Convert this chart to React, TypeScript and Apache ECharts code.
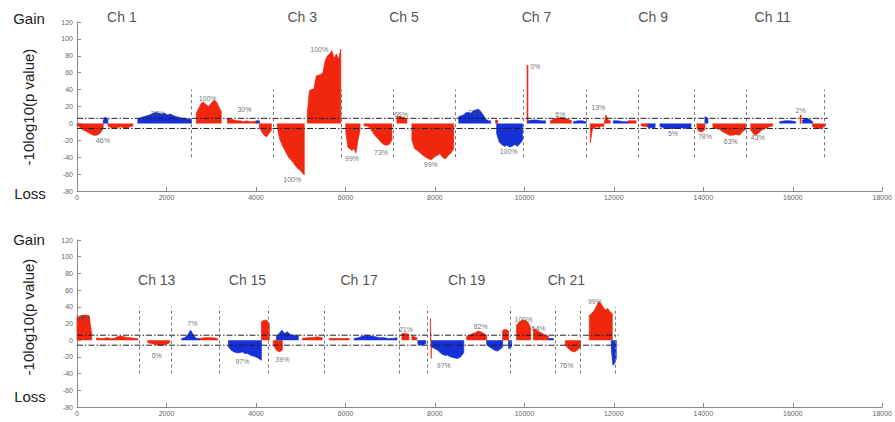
import React, { useEffect, useRef } from "react";
import * as echarts from "echarts";

// [start bin, end bin, -10log10(p) profile sampled evenly across the segment]
type Seg = [number, number, number[]];
type Label = [number, number, string];

const topRed: Seg[] = [
  [0, 586, [-2, -5, -8, -10, -12, -14, -14, -12, -6]],
  [690, 1250, [-3, -5, -6, -5, -4, -5, -6, -4, -3]],
  [2667, 3224, [12, 18, 24, 25, 22, 20, 24, 27, 26, 20, 14]],
  [3364, 4010, [6, 5, 4, 3, 3, 2, 3, 2, 2, 3]],
  [4077, 4345, [-5, -10, -14, -16, -12, -8]],
  [4478, 5080, [-5, -18, -25, -30, -35, -40, -43, -46, -50, -53, -55, -58, -61]],
  [5147, 5897, [12, 39, 40, 41, 56, 57, 58, 60, 74, 80, 82, 86, 77, 82, 76, 88]],
  [6008, 6327, [-10, -28, -30, -32, -30, -35, -20, -8]],
  [6417, 7040, [-3, -3, -5, -10, -15, -18, -22, -25, -26, -25, -20]],
  [7152, 7374, [8, 8, 7, 6]],
  [7486, 8421, [-20, -30, -32, -35, -38, -40, -42, -43, -40, -38, -36, -40, -42, -38, -35, -30]],
  [9357, 9402, [4]],
  [10060, 10080, [69]],
  [10583, 11051, [3, 5, 6, 7, 7, 6, 5, 3]],
  [11474, 11920, [-23, -6, -5, -4, -5, -3, -4, 10, 4, 3]],
  [12320, 12498, [3, 3]],
  [12610, 12766, [-3, -4]],
  [13858, 14036, [-6, -10, -10, -7]],
  [14214, 14950, [-5, -6, -7, -10, -12, -14, -14, -13, -14, -10, -7]],
  [15061, 15551, [-8, -14, -12, -8, -6, -4, -3]],
  [16165, 16185, [10]],
  [16443, 16730, [-4, -6, -6, -3]],
];

const topBlue: Seg[] = [
  [586, 690, [3, 7, 7, 5]],
  [1360, 2560, [5, 7, 8, 9, 10, 12, 13, 12, 11, 12, 10, 11, 9, 8, 7, 6, 6, 5, 5]],
  [4010, 4077, [3]],
  [8533, 9246, [8, 9, 10, 13, 13, 12, 15, 16, 17, 14, 10, 5, 3, 3]],
  [9380, 9959, [-12, -22, -25, -27, -26, -28, -27, -25, -27, -24, -20]],
  [10080, 10471, [3, 4, 4, 3, 3]],
  [11095, 11383, [2, 3, 3, 2]],
  [11986, 12320, [3, 3, 2, 2]],
  [12766, 12922, [-5, -5]],
  [13033, 13724, [-4, -5, -6, -6, -6, -5, -6, -5]],
  [14036, 14103, [8, 6]],
  [15707, 16063, [2, 3, 3, 2]],
  [16220, 16443, [4, 6, 5, 2]],
];

const botRed: Seg[] = [
  [0, 328, [27, 28, 30, 30, 30, 29, 8]],
  [439, 1359, [3, 2, 2, 3, 2, 2, 4, 5, 4, 3, 3, 2, 2]],
  [1582, 2072, [-3, -4, -5, -6, -6, -5, -3]],
  [2740, 3141, [2, 3, 3, 3, 2]],
  [4122, 4300, [22, 24, 24, 20]],
  [4389, 4590, [-6, -12, -14, -12]],
  [5035, 5481, [2, 3, 3, 4, 3]],
  [5637, 6083, [2, 2, 2]],
  [7263, 7419, [8, 8, 7]],
  [7486, 7597, [5, 3]],
  [7900, 7920, [26, -22]],
  [8711, 9157, [5, 6, 8, 9, 11, 10, 8, 6]],
  [9514, 9647, [12, 13, 11]],
  [9826, 10137, [18, 22, 24, 24, 22, 15]],
  [10204, 10538, [14, 12, 10, 8, 6, 5]],
  [10917, 11252, [-6, -10, -13, -14, -12, -8]],
  [11452, 11965, [30, 32, 35, 40, 46, 44, 40, 36, 38, 34, 32]],
];

const botBlue: Seg[] = [
  [2339, 2740, [2, 3, 6, 12, 6, 2, 2]],
  [3387, 4122, [-8, -12, -14, -15, -15, -14, -16, -16, -18, -19, -20, -22, -24]],
  [4456, 4946, [4, 8, 12, 8, 10, 7, 6, 6, 5]],
  [6194, 7152, [2, 3, 5, 6, 5, 4, 3, 3, 2, 2, 3]],
  [7620, 7798, [-5, -6, -4]],
  [7920, 8645, [-8, -10, -12, -16, -18, -18, -20, -21, -22, -20, -15]],
  [9157, 9514, [-5, -8, -10, -12, -13, -11, -8]],
  [9647, 9714, [-10, -8]],
  [10538, 10650, [2, 2]],
  [11942, 12054, [-10, -30, -28, -22]],
];

const topPct: Label[] = [
  [580, -20, "46%"], [1805, 12, "32%"], [2919, 30, "100%"], [3743, 17, "30%"],
  [4812, -66, "100%"], [5414, 87, "100%"], [6149, -42, "99%"], [6795, -34, "73%"],
  [7241, 10, "66%"], [7909, -49, "99%"], [8889, 13, "73%"], [9647, -33, "100%"],
  [10249, 67, "0%"], [10806, 10, "6%"], [11652, 19, "13%"], [13323, -12, "5%"],
  [14036, -16, "78%"], [14615, -22, "63%"], [15217, -17, "43%"], [16175, 15, "2%"],
];

const botPct: Label[] = [
  [134, 27, "99%"], [1782, -18, "6%"], [2584, 20, "7%"], [3698, -26, "97%"],
  [4590, -23, "39%"], [7352, 13, "21%"], [8199, -30, "97%"], [9023, 16, "82%"],
  [9981, 25, "100%"], [10316, 14, "54%"], [10940, -30, "76%"], [11578, 46, "99%"],
];

const topBounds = [2562, 4389, 5903, 7062, 8465, 9980, 11383, 12542, 13789, 14970, 16707];
const botBounds = [1381, 2116, 3186, 4277, 5525, 7196, 7820, 9692, 10695, 11252, 12032];

const topChr: [string, number][] = [
  ["Ch 1", 1003], ["Ch 3", 5035], ["Ch 5", 7308], ["Ch 7", 10271], ["Ch 9", 12878], ["Ch 11", 15551],
];
const botChr: [string, number][] = [
  ["Ch 13", 1782], ["Ch 15", 3810], ["Ch 17", 6305], ["Ch 19", 8711], ["Ch 21", 10939],
];

const threshold = 6;
const boundSpan = 40;
const topEnd = 16780;
const botEnd = 12100;
const chrLabelY = [126, 72];

const RED = "#f0260f";
const BLUE = "#1530d6";
const FONT = "'Liberation Sans', Arial, Helvetica, sans-serif";

function areaSeries(segs: Seg[], color: string, gi: number) {
  return segs.map(([from, to, vals]) => {
    const pts: number[][] = [[from, 0]];
    if (vals.length === 1) {
      pts.push([from, vals[0]], [to, vals[0]]);
    } else {
      vals.forEach((v, i) => pts.push([from + ((to - from) * i) / (vals.length - 1), v]));
    }
    pts.push([to, 0]);
    return {
      type: "line",
      xAxisIndex: gi,
      yAxisIndex: gi,
      data: pts,
      symbol: "none",
      silent: true,
      z: 2,
      lineStyle: { color, width: 0.7 },
      areaStyle: { color, opacity: 1 },
    };
  });
}

function guideSeries(gi: number, end: number, bounds: number[]) {
  const dashDot = { color: "#1e1e28", width: 1, type: [6, 2, 1.5, 2] };
  return [
    {
      type: "line",
      xAxisIndex: gi,
      yAxisIndex: gi,
      data: [[0, threshold], [end, threshold]],
      symbol: "none",
      silent: true,
      z: 4,
      lineStyle: dashDot,
    },
    {
      type: "line",
      xAxisIndex: gi,
      yAxisIndex: gi,
      data: [[0, -threshold], [end, -threshold]],
      symbol: "none",
      silent: true,
      z: 4,
      lineStyle: dashDot,
      markLine: {
        silent: true,
        symbol: "none",
        label: { show: false },
        lineStyle: { color: "#6f7a72", width: 1, type: [3, 3] },
        data: bounds.map((g) => [{ coord: [g, -boundSpan] }, { coord: [g, boundSpan] }]),
      },
    },
  ];
}

function pctSeries(labels: Label[], gi: number) {
  return {
    type: "scatter",
    xAxisIndex: gi,
    yAxisIndex: gi,
    symbolSize: 0,
    silent: true,
    z: 6,
    data: labels.map(([g, v, t]) => ({
      value: [g, v],
      label: {
        show: true,
        position: "inside",
        formatter: t,
        fontSize: 7,
        color: "#4a4a4a",
        fontFamily: FONT,
      },
    })),
  };
}

function chrSeries(names: [string, number][], gi: number) {
  return {
    type: "scatter",
    xAxisIndex: gi,
    yAxisIndex: gi,
    symbolSize: 0,
    silent: true,
    clip: false,
    z: 6,
    data: names.map(([n, g]) => ({
      value: [g, chrLabelY[gi]],
      label: {
        show: true,
        position: "inside",
        formatter: n,
        fontSize: 14,
        color: "#222",
        fontFamily: FONT,
      },
    })),
  };
}

function xAxis(gi: number) {
  return {
    type: "value",
    gridIndex: gi,
    min: 0,
    max: 18000,
    interval: 2000,
    axisLine: { onZero: false, lineStyle: { color: "#8c8c8c", width: 1 } },
    axisTick: { inside: true, length: 4, lineStyle: { color: "#8c8c8c" } },
    axisLabel: {
      fontSize: 7,
      color: "#666",
      margin: 3,
      fontFamily: FONT,
      formatter: (v: number) => String(v),
    },
    splitLine: { show: false },
  };
}

function yAxis(gi: number) {
  return {
    type: "value",
    gridIndex: gi,
    min: -80,
    max: 120,
    interval: 20,
    axisLine: { show: true, onZero: false, lineStyle: { color: "#8c8c8c", width: 1 } },
    axisTick: { show: true, inside: true, length: 4, lineStyle: { color: "#8c8c8c" } },
    axisLabel: { fontSize: 7, color: "#666", margin: 4, fontFamily: FONT },
    splitLine: { show: false },
  };
}

function sideText(text: string, x: number, y: number, size: number, rotate = false) {
  return {
    type: "text",
    x,
    y,
    rotation: rotate ? Math.PI / 2 : 0,
    silent: true,
    style: {
      text,
      font: `${size}px ${FONT}`,
      fill: "#222",
      textAlign: "center",
      textVerticalAlign: "middle",
    },
  };
}

export default function App() {
  const ref = useRef<HTMLDivElement>(null);

  useEffect(() => {
    if (!ref.current) return;
    const chart = echarts.init(ref.current, undefined, { renderer: "svg" });
    chart.setOption({
      animation: false,
      backgroundColor: "#fff",
      grid: [
        { left: 77, top: 22, width: 808, height: 169 },
        { left: 77, top: 240, width: 808, height: 167 },
      ],
      xAxis: [xAxis(0), xAxis(1)],
      yAxis: [yAxis(0), yAxis(1)],
      graphic: [
        sideText("Gain", 29, 18, 15),
        sideText("Loss", 30, 193, 15),
        sideText("-10log10(p value)", 28, 107, 15, true),
        sideText("Gain", 29, 239, 15),
        sideText("Loss", 30, 396, 15),
        sideText("-10log10(p value)", 28, 317, 15, true),
      ],
      series: [
        ...areaSeries(topRed, RED, 0),
        ...areaSeries(topBlue, BLUE, 0),
        ...areaSeries(botRed, RED, 1),
        ...areaSeries(botBlue, BLUE, 1),
        ...guideSeries(0, topEnd, topBounds),
        ...guideSeries(1, botEnd, botBounds),
        pctSeries(topPct, 0),
        pctSeries(botPct, 1),
        chrSeries(topChr, 0),
        chrSeries(botChr, 1),
      ],
    });
    return () => chart.dispose();
  }, []);

  return (
    <div
      ref={ref}
      style={{ position: "absolute", left: 0, top: 0, width: 895, height: 422 }}
    />
  );
}
